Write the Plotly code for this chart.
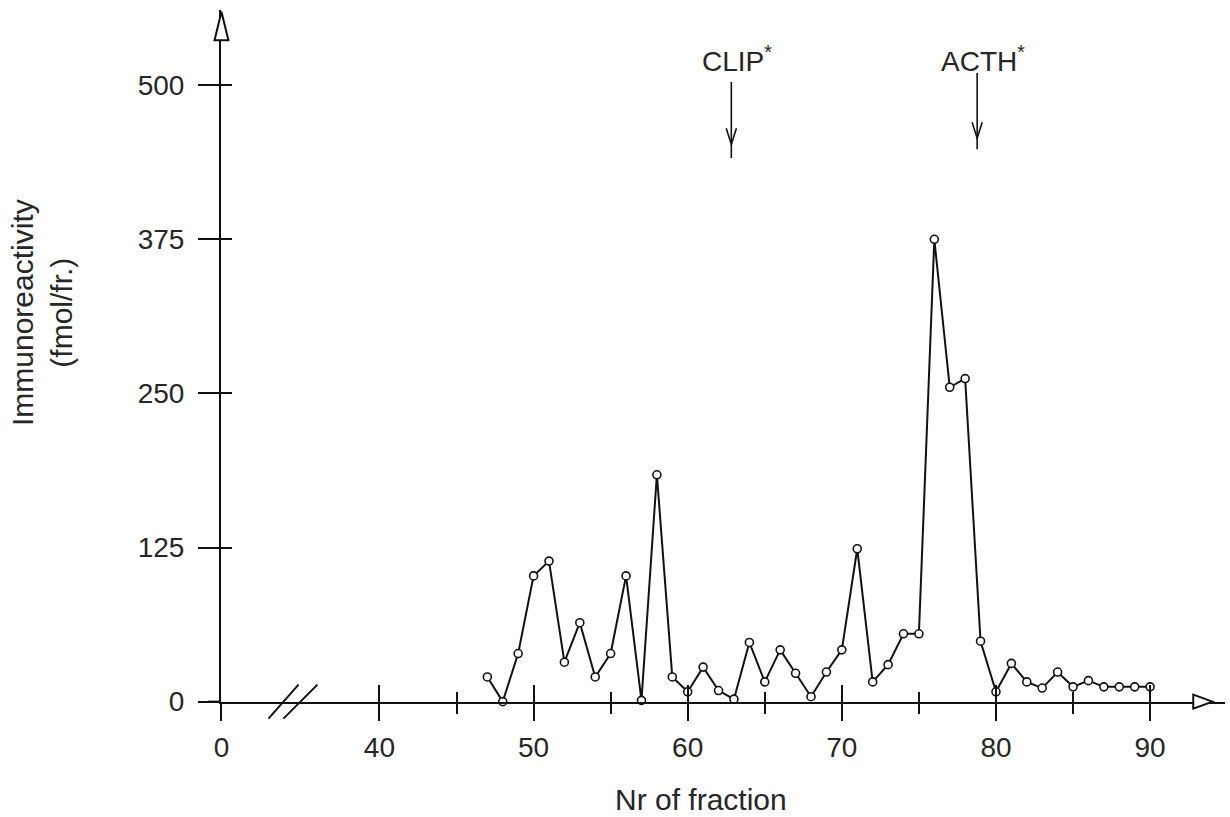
import plotly.graph_objects as go

# ---------------- data ----------------
fractions = list(range(47, 91))
immunoreactivity = [20, 0, 39, 102, 114, 32, 64, 20, 39, 102,
                    1, 184, 20, 8, 28, 9, 2, 48, 16, 42,
                    23, 4, 24, 42, 124, 16, 30, 55, 55, 375,
                    255, 262, 49, 8, 31, 16, 11, 24, 12, 17,
                    12, 12, 12, 12]

x_tick_labels = ["0", "40", "50", "60", "70", "80", "90"]
x_tick_fractions = [0, 40, 50, 60, 70, 80, 90]
x_minor_fractions = [45, 55, 65, 75, 85]
y_tick_values = [0, 125, 250, 375, 500]
y_tick_labels = ["0", "125", "250", "375", "500"]

markers_text = ["CLIP", "ACTH"]
markers_fraction = [62.83, 78.78]

# ---------------- layout helpers ----------------
X_ZERO = 29.75          # axis position used for fraction 0 (broken axis)
XR = [29.72, 94.86]
YR = [-0.3, 561]
FONT = "Liberation Sans, Arial, sans-serif"
TXT = "#262626"
LC = "#111111"


def xpos(f):
    return X_ZERO if f == 0 else f


def px(x):
    return (x - XR[0]) / (XR[1] - XR[0])


def py(y):
    return (y - YR[0]) / (YR[1] - YR[0])


fig = go.Figure()

fig.add_trace(go.Scatter(
    x=fractions, y=immunoreactivity, mode="lines+markers",
    line=dict(color=LC, width=2),
    marker=dict(symbol="circle", size=8, color="white",
                line=dict(color=LC, width=1.6)),
    cliponaxis=False, showlegend=False, hoverinfo="x+y"))

# invisible trace on overlay axes (second set of tick marks)
fig.add_trace(go.Scatter(x=[None], y=[None], xaxis="x2", yaxis="y2",
                         showlegend=False, hoverinfo="skip"))

tickvals_x = [xpos(f) for f in x_tick_fractions]

fig.update_layout(
    width=1230, height=817,
    margin=dict(l=221, r=5, t=10, b=115),
    paper_bgcolor="white", plot_bgcolor="white",
    font=dict(family=FONT, color=TXT, size=28),
    xaxis=dict(range=XR, showgrid=False, zeroline=False,
               showline=True, linecolor=LC, linewidth=2,
               tickmode="array", tickvals=tickvals_x, ticktext=x_tick_labels,
               ticks="outside", ticklen=17, tickwidth=2, tickcolor=LC,
               minor=dict(tickmode="array", tickvals=x_minor_fractions,
                          ticks="outside", ticklen=10, tickwidth=2, tickcolor=LC),
               tickfont=dict(size=28, family=FONT, color=TXT),
               ticklabelstandoff=2),
    xaxis2=dict(range=XR, overlaying="x", anchor="y2", side="bottom",
                showgrid=False, zeroline=False, showline=False,
                tickmode="array", tickvals=tickvals_x, showticklabels=False,
                ticks="inside", ticklen=17, tickwidth=2, tickcolor=LC,
                minor=dict(tickmode="array", tickvals=x_minor_fractions,
                           ticks="inside", ticklen=10, tickwidth=2, tickcolor=LC)),
    yaxis=dict(range=YR, showgrid=False, zeroline=False,
               showline=True, linecolor=LC, linewidth=2,
               tickmode="array", tickvals=y_tick_values, ticktext=y_tick_labels,
               ticks="outside", ticklen=21, tickwidth=2, tickcolor=LC,
               tickfont=dict(size=28, family=FONT, color=TXT),
               ticklabelstandoff=8),
    yaxis2=dict(range=YR, overlaying="y", anchor="x2", side="left",
                showgrid=False, zeroline=False, showline=False,
                tickmode="array", tickvals=y_tick_values, showticklabels=False,
                ticks="inside", ticklen=11, tickwidth=2, tickcolor=LC),
)

shapes = []
# x-axis extension left of the y axis
shapes.append(dict(type="line", xref="paper", yref="paper",
                   x0=-13 / 1004, x1=0, y0=py(0), y1=py(0),
                   line=dict(color=LC, width=2)))
# axis break marks
for x0, x1 in [(32.80, 34.75), (33.77, 35.98)]:
    shapes.append(dict(type="line", xref="paper", yref="paper",
                       x0=px(x0), x1=px(x1), y0=py(-13.8), y1=py(13.8),
                       line=dict(color=LC, width=2)))
# y-axis open arrowhead
shapes.append(dict(type="path", xref="paper", yref="paper",
                   path=f"M {px(X_ZERO)},{py(559.5)} L {px(X_ZERO - 0.45)},{py(536.5)} "
                        f"L {px(X_ZERO + 0.45)},{py(536.5)} Z",
                   fillcolor="white", line=dict(color=LC, width=2)))
# x-axis open arrowhead
shapes.append(dict(type="path", xref="paper", yref="paper",
                   path=f"M {px(94.05)},{py(0)} L {px(92.8)},{py(5.7)} "
                        f"L {px(92.8)},{py(-5.7)} Z",
                   fillcolor="white", line=dict(color=LC, width=2)))

# marker arrows (CLIP*, ACTH*)
label_x = [63.22, 79.17]
arrow_top = [502.6, 510.0]
arrow_bottom = [441.0, 448.0]
arrow_tip = [452.0, 457.0]
for fx, at, ab, tip in zip(markers_fraction, arrow_top, arrow_bottom, arrow_tip):
    shapes.append(dict(type="line", xref="paper", yref="paper",
                       x0=px(fx), x1=px(fx), y0=py(at), y1=py(ab),
                       line=dict(color=LC, width=1.6)))
    shapes.append(dict(type="path", xref="paper", yref="paper",
                       path=f"M {px(fx - 0.33)},{py(tip + 13)} L {px(fx)},{py(tip)} "
                            f"L {px(fx + 0.33)},{py(tip + 13)}",
                       line=dict(color=LC, width=1.6)))
fig.update_layout(shapes=shapes)

annotations = []
for name, lx in zip(markers_text, label_x):
    annotations.append(dict(x=lx, y=521, xref="x", yref="y",
                            text=f"{name}<sup>*</sup>", showarrow=False,
                            font=dict(size=28, family=FONT, color=TXT),
                            xanchor="center", yanchor="middle"))
# axis titles
annotations.append(dict(x=(42 - 221) / 1004, y=(702 - 313) / 692,
                        xref="paper", yref="paper",
                        text="Immunoreactivity<br>(fmol/fr.)", textangle=-90,
                        showarrow=False, font=dict(size=30, family=FONT, color=TXT),
                        xanchor="center", yanchor="middle"))
annotations.append(dict(x=(701 - 221) / 1004, y=(702 - 799) / 692,
                        xref="paper", yref="paper",
                        text="Nr of fraction", showarrow=False,
                        font=dict(size=30, family=FONT, color=TXT),
                        xanchor="center", yanchor="middle"))
fig.update_layout(annotations=annotations)

fig.write_html("out.html")
